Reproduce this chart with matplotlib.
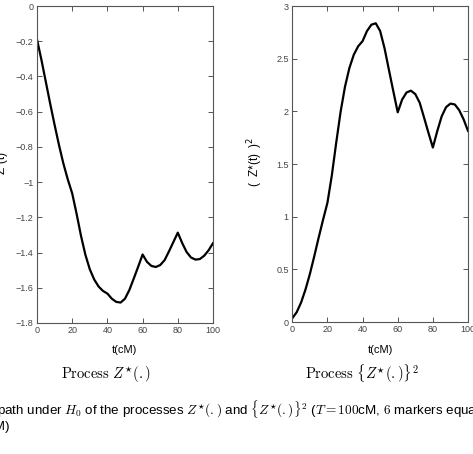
import matplotlib
matplotlib.use("Agg")
import matplotlib.pyplot as plt

plt.rcParams['font.family'] = ['Liberation Sans', 'DejaVu Sans']
plt.rcParams['mathtext.fontset'] = 'cm'

# positions along the chromosome (cM)
t_cm = [0, 2.5, 5, 7.5, 10, 12.5, 15, 17.5, 20, 22.5, 25, 27.5, 30, 32.5, 35, 37.5,
        40, 42.5, 45, 47.5, 50, 52.5, 55, 57.5, 60, 62.5, 65, 67.5, 70, 72.5, 75,
        77.5, 80, 82.5, 85, 87.5, 90, 92.5, 95, 97.5, 100]

# process Z*(t)
z_star = [-0.19, -0.305, -0.43, -0.555, -0.675, -0.79, -0.895, -0.985, -1.064,
          -1.18, -1.305, -1.413, -1.495, -1.553, -1.593, -1.618, -1.633,
          -1.662, -1.68, -1.684, -1.662, -1.612, -1.547, -1.48, -1.411,
          -1.453, -1.476, -1.482, -1.471, -1.443, -1.393, -1.34, -1.287,
          -1.346, -1.397, -1.428, -1.44, -1.437, -1.418, -1.387, -1.347]

# process {Z*(t)}^2
z_star_sq = [0.0361, 0.0930, 0.1849, 0.3080, 0.4556, 0.6241, 0.8010, 0.9702, 1.1321,
             1.3924, 1.7030, 1.9966, 2.2350, 2.4118, 2.5376, 2.6179, 2.6667,
             2.7622, 2.8224, 2.8359, 2.7622, 2.5985, 2.3932, 2.1904, 1.9909,
             2.1112, 2.1786, 2.1963, 2.1638, 2.0822, 1.9405, 1.7956, 1.6564,
             1.8117, 1.9516, 2.0392, 2.0736, 2.0650, 2.0107, 1.9238, 1.8144]

x_ticks = [0, 20, 40, 60, 80, 100]
left_yticks = [0, -0.2, -0.4, -0.6, -0.8, -1, -1.2, -1.4, -1.6, -1.8]
left_yticklabels = ['0', '\u22120.2', '\u22120.4', '\u22120.6', '\u22120.8', '\u22121',
                    '\u22121.2', '\u22121.4', '\u22121.6', '\u22121.8']
right_yticks = [0, 0.5, 1, 1.5, 2, 2.5, 3]
right_yticklabels = ['0', '0.5', '1', '1.5', '2', '2.5', '3']

W, H = 473, 454
fig = plt.figure(figsize=(W / 100, H / 100), dpi=100)

def px_rect(x0, x1, ytop, ybot):
    return [x0 / W, 1 - ybot / H, (x1 - x0) / W, (ybot - ytop) / H]

ax1 = fig.add_axes(px_rect(37, 213, 6, 323))
ax2 = fig.add_axes(px_rect(292.3, 468, 6, 322))

tick_col = '#444444'
for ax in (ax1, ax2):
    ax.tick_params(direction='in', top=True, right=True, length=3.5, width=0.7,
                   labelsize=6.5, labelcolor=tick_col, color='#555555', pad=2.5)
    for s in ax.spines.values():
        s.set_linewidth(0.8)
        s.set_color('#555555')
    ax.set_xlim(0, 100)
    ax.set_xticks(x_ticks)
    ax.set_xticklabels([str(v) for v in x_ticks])

ax1.plot(t_cm, z_star, color='black', lw=1.6, solid_joinstyle='round')
ax1.set_ylim(-1.8, 0)
ax1.set_yticks(left_yticks)
ax1.set_yticklabels(left_yticklabels)

ax2.plot(t_cm, z_star_sq, color='black', lw=1.6, solid_joinstyle='round')
ax2.set_ylim(0, 3)
ax2.set_yticks(right_yticks)
ax2.set_yticklabels(right_yticklabels)

def ftext(x, y, s, **kw):
    fig.text(x / W, 1 - y / H, s, **kw)

# axis labels
ftext(124, 350, 't(cM)', ha='center', va='center', fontsize=8)
ftext(380, 350, 't(cM)', ha='center', va='center', fontsize=8)
ftext(2, 162, 'Z*(t)', ha='center', va='center', rotation=90, fontsize=8.5)
ftext(255, 162, '(  Z*(t)  )$^{2}$', ha='center', va='center', rotation=90, fontsize=8.5,
      math_fontfamily='dejavusans')

# sub-captions
ftext(106, 374, r'$\mathrm{Process}\ Z^{\star}(.)$', ha='center', va='center', fontsize=10.5)
ftext(362, 374, r'$\mathrm{Process}\ \{Z^{\star}(.)\}^{2}$', ha='center', va='center', fontsize=10.5)

# figure caption (cropped)
ftext(-3, 409, r'path under $H_0$ of the processes $Z^{\star}(.)$ and $\{Z^{\star}(.)\}^2$ '
      r'($T=100$cM, $6$ markers equal', ha='left', va='center', fontsize=9.6)
ftext(10, 427, 'cM)', ha='right', va='center', fontsize=9.6)

fig.savefig('out.png', dpi=100)
